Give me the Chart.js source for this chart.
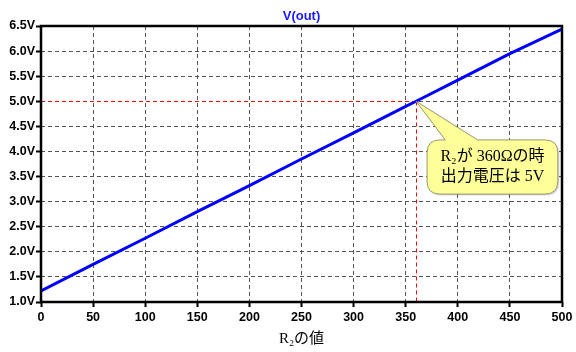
<!DOCTYPE html>
<html><head><meta charset="utf-8">
<script src="https://cdn.jsdelivr.net/npm/chart.js@4"></script>
<style>html,body{margin:0;padding:0;background:#fff}#wrap{width:576px;height:352px}</style>
</head><body><div id="wrap"><canvas id="c" width="576" height="352"></canvas></div>
<script>
// Data
const r2Values = [0, 50, 100, 150, 200, 250, 300, 350, 360, 400, 450, 500];
const voutValues = [1.22, 1.75, 2.27, 2.80, 3.32, 3.85, 4.37, 4.90, 5.00, 5.42, 5.95, 6.44];
const markerR2 = 360;
const markerV = 5.0;
const xTicks = [0, 50, 100, 150, 200, 250, 300, 350, 400, 450, 500];
const yTicks = [1.0, 1.5, 2.0, 2.5, 3.0, 3.5, 4.0, 4.5, 5.0, 5.5, 6.0, 6.5];
const seriesName = 'V(out)';
const xTitle = 'R\u2082の値';
const calloutLines = ['R\u2082が 360Ωの時', '出力電圧は 5V'];
// callout box placement (in data units)
const calloutBox = {x0: 370.5, x1: 496, y0: 4.23, y1: 3.15, baseX0: 388, baseX1: 419};

const pts = r2Values.map((x, i) => ({x, y: voutValues[i]}));

const framePlugin = {
  id: 'frame',
  beforeDatasetsDraw(chart) {
    const {ctx, chartArea: a, scales: {x, y}} = chart;
    ctx.save();
    ctx.strokeStyle = '#ff0000';
    ctx.lineWidth = 1;
    ctx.setLineDash([4, 3]);
    const px = Math.round(x.getPixelForValue(markerR2)) + 0.5;
    const py = Math.round(y.getPixelForValue(markerV)) + 0.5;
    ctx.beginPath();
    ctx.moveTo(a.left, py); ctx.lineTo(px, py);
    ctx.moveTo(px, py); ctx.lineTo(px, a.bottom);
    ctx.stroke();
    ctx.restore();
  },
  afterDraw(chart) {
    const {ctx, chartArea: a, scales: {x, y}} = chart;
    ctx.save();
    // frame
    ctx.strokeStyle = '#000';
    ctx.lineWidth = 2.5;
    ctx.strokeRect(a.left, a.top, a.right - a.left, a.bottom - a.top);
    // title
    ctx.fillStyle = '#1a1aff';
    ctx.font = 'bold 13px "Liberation Sans", Arial, sans-serif';
    ctx.textAlign = 'center';
    ctx.textBaseline = 'middle';
    ctx.fillText(seriesName, (a.left + a.right) / 2, 16);
    // callout
    const bx0 = x.getPixelForValue(calloutBox.x0), bx1 = x.getPixelForValue(calloutBox.x1);
    const by0 = y.getPixelForValue(calloutBox.y0), by1 = y.getPixelForValue(calloutBox.y1);
    const tx = x.getPixelForValue(markerR2), ty = y.getPixelForValue(markerV);
    const p0 = x.getPixelForValue(calloutBox.baseX0), p1 = x.getPixelForValue(calloutBox.baseX1);
    const r = 13;
    ctx.beginPath();
    ctx.moveTo(bx0 + r, by0);
    ctx.lineTo(p0, by0);
    ctx.lineTo(tx, ty);
    ctx.lineTo(p1, by0);
    ctx.lineTo(bx1 - r, by0);
    ctx.quadraticCurveTo(bx1, by0, bx1, by0 + r);
    ctx.lineTo(bx1, by1 - r);
    ctx.quadraticCurveTo(bx1, by1, bx1 - r, by1);
    ctx.lineTo(bx0 + r, by1);
    ctx.quadraticCurveTo(bx0, by1, bx0, by1 - r);
    ctx.lineTo(bx0, by0 + r);
    ctx.quadraticCurveTo(bx0, by0, bx0 + r, by0);
    ctx.closePath();
    ctx.shadowColor = 'rgba(0,0,0,0.25)';
    ctx.shadowOffsetX = 1; ctx.shadowOffsetY = 1; ctx.shadowBlur = 2;
    ctx.fillStyle = '#ffff99';
    ctx.fill();
    ctx.shadowColor = 'transparent';
    ctx.strokeStyle = '#9a9a70';
    ctx.lineWidth = 1;
    ctx.stroke();
    ctx.fillStyle = '#000';
    ctx.font = '16px "Liberation Serif", "Noto Sans CJK JP", serif';
    ctx.textAlign = 'center';
    const cx = (bx0 + bx1) / 2;
    ctx.fillText(calloutLines[0], cx, (by0 + by1) / 2 - 10);
    ctx.fillText(calloutLines[1], cx, (by0 + by1) / 2 + 10);
    ctx.restore();
  }
};

new Chart(document.getElementById('c'), {
  type: 'line',
  data: {
    datasets: [{
      label: seriesName,
      data: pts,
      borderColor: '#0000ff',
      borderWidth: 3,
      pointRadius: 0,
      tension: 0,
      fill: false
    }]
  },
  options: {
    responsive: false,
    animation: false,
    events: [],
    layout: {padding: {top: 26, right: 14, left: 0, bottom: 0}},
    plugins: {legend: {display: false}, tooltip: {enabled: false}, title: {display: false}},
    scales: {
      x: {
        type: 'linear', min: 0, max: 500,
        afterFit: s => { s.height = 50; },
        afterBuildTicks: s => { s.ticks = xTicks.map(v => ({value: v})); },
        grid: {color: '#555', lineWidth: 1, tickLength: 5, tickColor: '#000', tickWidth: 2},
        border: {display: false, dash: [4, 3]},
        ticks: {color: '#000', font: {family: '"Liberation Sans", Arial, sans-serif', size: 12.5, weight: 'bold'}, padding: 3, maxRotation: 0, autoSkip: false},
        title: {display: true, text: xTitle, color: '#000', font: {family: '"Liberation Serif", "Noto Sans CJK JP", serif', size: 15}, padding: {top: 0, bottom: 4}}
      },
      y: {
        type: 'linear', min: 1.0, max: 6.5,
        afterFit: s => { s.width = 41; },
        afterBuildTicks: s => { s.ticks = yTicks.map(v => ({value: v})); },
        grid: {color: '#555', lineWidth: 1, tickLength: 5, tickColor: '#000', tickWidth: 2},
        border: {display: false, dash: [4, 3]},
        ticks: {color: '#000', font: {family: '"Liberation Sans", Arial, sans-serif', size: 12.5, weight: 'bold'}, padding: 1, autoSkip: false,
          callback: v => v.toFixed(1) + 'V'}
      }
    }
  },
  plugins: [framePlugin]
});
</script></body></html>
